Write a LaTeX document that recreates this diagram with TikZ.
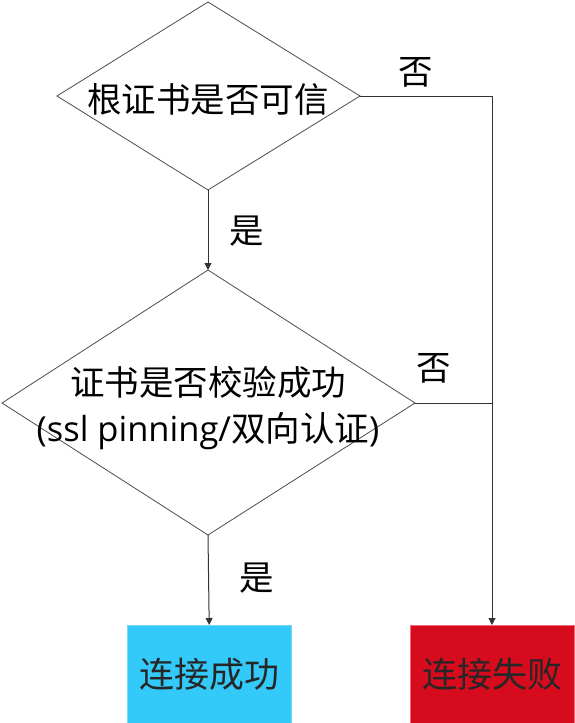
\documentclass[tikz,border=0pt]{standalone}
\usepackage{fontspec}
\setmainfont{Noto Sans CJK SC}
\newfontfamily\latinpart{Open Sans}
\usetikzlibrary{shapes.geometric,arrows.meta}
\begin{document}
\begin{tikzpicture}[x=1pt,y=-1pt,
  dia/.style={draw=black!70,line width=0.8pt,inner sep=0pt},
  lbl/.style={font=\fontsize{34.5}{38}\selectfont,inner sep=0pt},
  res/.style={font=\fontsize{35}{38}\selectfont,text=black!85,inner sep=0pt},
  conn/.style={draw=black!80,line width=1pt},
  arr/.style={conn,-{Triangle[length=7pt,width=7pt]}}]
\useasboundingbox (0,0) rectangle (575,723);
% diamond 1
\coordinate (d1t) at (208,2);
\coordinate (d1r) at (360,96);
\coordinate (d1b) at (208,190);
\coordinate (d1l) at (57,96);
\draw[dia] (d1t) -- (d1r) -- (d1b) -- (d1l) -- cycle;
\node[lbl] (t1) at (208,99) {根证书是否可信};
% diamond 2
\coordinate (d2t) at (208,270);
\coordinate (d2r) at (415,403);
\coordinate (d2b) at (208,535);
\coordinate (d2l) at (2,403);
\draw[dia] (d2t) -- (d2r) -- (d2b) -- (d2l) -- cycle;
\node[lbl] (t2a) at (208,382) {证书是否校验成功};
\node[lbl] (t2b) at (208,431) {{\latinpart (ssl pinning/}双向认证{\latinpart )}};
% result boxes
\node[res,fill={rgb,255:red,51;green,201;blue,248},draw={rgb,255:red,120;green,215;blue,245},minimum width=164pt,minimum height=98pt,anchor=north west] (ok) at (127,625) {连接成功};
\node[res,fill={rgb,255:red,215;green,11;blue,30},draw={rgb,255:red,235;green,110;blue,120},minimum width=164pt,minimum height=98pt,anchor=north west] (fail) at (410,625) {连接失败};
% connectors
\coordinate (c1) at (492,96);
\coordinate (c2) at (492,403);
\draw[arr] (d1b) -- (d2t);
\draw[arr] (d2b) -- (ok.north);
\draw[arr] (d1r) -- (c1) -- (fail.north -| c1);
\draw[conn] (d2r) -- (c2);
% labels
\node[lbl] (n1) at (416,72) {否};
\node[lbl] (y1) at (247,231) {是};
\node[lbl] (n2) at (434,368) {否};
\node[lbl] (y2) at (257,578) {是};
\end{tikzpicture}
\end{document}
